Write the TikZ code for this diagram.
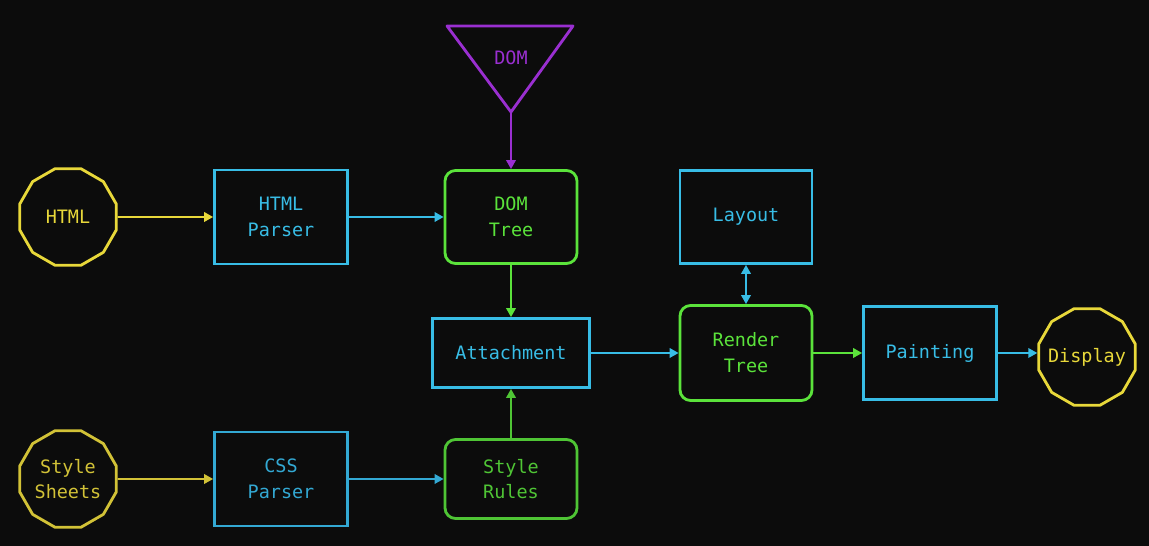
\documentclass[tikz,border=0pt]{standalone}
\usepackage{fontspec}
\setmonofont{DejaVu Sans Mono}
\usepackage{tikz}
\usetikzlibrary{arrows.meta,shapes.geometric}
\definecolor{bgcol}{HTML}{0C0C0C}
\definecolor{srcY}{HTML}{E8D83A}
\definecolor{srcYdim}{HTML}{D2C237}
\definecolor{procB}{HTML}{38BDE6}
\definecolor{procBdim}{HTML}{33A9D4}
\definecolor{treeG}{HTML}{5BE33B}
\definecolor{treeGdim}{HTML}{4FC535}
\definecolor{domP}{HTML}{9A2FD1}

\begin{document}
\begin{tikzpicture}[>={Triangle[length=1.8mm,width=1.9mm]},line width=1.1pt,
  every node/.style={font=\ttfamily\fontsize{10.5}{14.7}\selectfont,align=center},
  source/.style={draw,regular polygon,regular polygon sides=12,minimum size=2cm,line width=1.6pt,inner sep=0pt},
  proc/.style={draw,minimum width=2.66cm,minimum height=1.88cm,line width=1.6pt},
  tree/.style={draw,rounded corners=6pt,minimum width=2.64cm,minimum height=1.86cm,line width=1.6pt}]
  \fill[bgcol] (0,0) rectangle (22.98,10.92);
  \useasboundingbox (0,0) rectangle (22.98,10.92);
  % inputs
  \node[source,draw=srcY,text=srcY] (html) at (1.36,6.58) {HTML};
  \node[source,draw=srcYdim,text=srcYdim] (sheets) at (1.36,1.34) {Style\\Sheets};
  % parsers
  \node[proc,draw=procB,text=procB] (htmlparser) at (5.62,6.58) {HTML\\Parser};
  \node[proc,draw=procBdim,text=procBdim] (cssparser) at (5.62,1.34) {CSS\\Parser};
  % trees
  \node[tree,draw=treeG,text=treeG] (domtree) at (10.22,6.58) {DOM\\Tree};
  \node[tree,draw=treeGdim,text=treeGdim,minimum height=1.58cm] (stylerules) at (10.22,1.34) {Style\\Rules};
  \node[proc,draw=procB,text=procB,minimum width=3.14cm,minimum height=1.38cm] (attach) at (10.22,3.86) {Attachment};
  \node[tree,draw=treeG,text=treeG,minimum height=1.9cm] (render) at (14.92,3.86) {Render\\Tree};
  \node[proc,draw=procB,text=procB,minimum width=2.64cm,minimum height=1.86cm] (layout) at (14.92,6.58) {Layout};
  \node[proc,draw=procB,text=procB,minimum height=1.86cm] (paint) at (18.6,3.86) {Painting};
  \node[source,draw=srcY,text=srcY] (display) at (21.74,3.78) {\makebox[0pt]{Display}};
  % DOM triangle
  \draw[domP,line width=1.6pt,line join=round] (8.94,10.4) -- (11.46,10.4) -- (10.22,8.68) -- cycle;
  \coordinate (domtip) at (10.22,8.68);
  \node[text=domP] (dom) at (10.22,9.76) {DOM};
  % connectors
  \draw[->,srcY] (html) -- (htmlparser);
  \draw[->,procB] (htmlparser) -- (domtree);
  \draw[->,domP] (domtip) -- (domtree);
  \draw[->,treeG] (domtree) -- (attach);
  \draw[->,treeGdim] (stylerules) -- (attach);
  \draw[->,srcYdim] (sheets) -- (cssparser);
  \draw[->,procBdim] (cssparser) -- (stylerules);
  \draw[->,procB] (attach) -- (render);
  \draw[<->,procB] (render) -- (layout);
  \draw[->,treeG] (render) -- (paint);
  \draw[->,procB] (paint.east) -- (paint.east -| display.west);
\end{tikzpicture}
\end{document}
